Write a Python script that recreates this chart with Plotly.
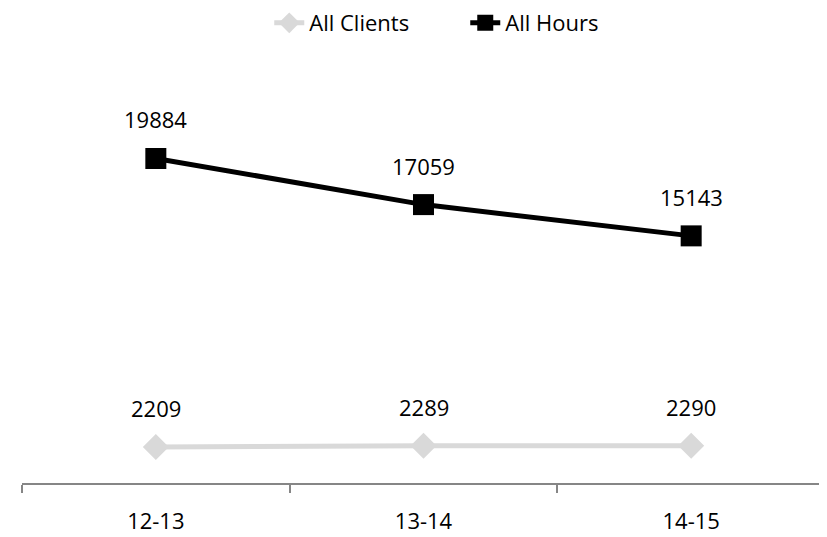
import plotly.graph_objects as go

categories = ["12-13", "13-14", "14-15"]
all_clients = [2209, 2289, 2290]
all_hours = [19884, 17059, 15143]

font_family = "Open Sans, Liberation Sans, sans-serif"

fig = go.Figure()
fig.add_trace(go.Scatter(
    x=categories, y=all_clients, name="All Clients",
    mode="lines+markers",
    line=dict(color="#d9d9d9", width=5),
    marker=dict(symbol="diamond", size=20, color="#d9d9d9"),
))
fig.add_trace(go.Scatter(
    x=categories, y=all_hours, name="All Hours",
    mode="lines+markers",
    line=dict(color="#000000", width=5),
    marker=dict(symbol="square", size=21, color="#000000"),
))

annotations = []
for series in (all_clients, all_hours):
    for c, v in zip(categories, series):
        annotations.append(dict(
            x=c, y=v, text=str(v), showarrow=False,
            yanchor="bottom", yshift=22,
            font=dict(size=22, color="#000000", family=font_family),
        ))

fig.update_layout(
    width=827, height=537,
    margin=dict(l=14, r=10, t=67, b=55),
    paper_bgcolor="white", plot_bgcolor="white",
    font=dict(family=font_family, size=22, color="#000000"),
    showlegend=True,
    legend=dict(orientation="h", x=0.552, xanchor="center", y=1 - 15 / 537,
                yref="container", yanchor="middle", font=dict(size=22),
                entrywidth=151, entrywidthmode="pixels"),
    xaxis=dict(type="category", range=[-0.5, 2.5], showgrid=False,
               showline=True, linecolor="#868686", linewidth=1.5,
               ticks="outside", tickson="boundaries", ticklen=8,
               tickcolor="#868686", tickwidth=1.5, ticklabelstandoff=18,
               tickfont=dict(size=22)),
    yaxis=dict(range=[0, 25000], showgrid=False, showline=False,
               showticklabels=False, zeroline=False),
    annotations=annotations,
)

fig.write_html("out.html")
